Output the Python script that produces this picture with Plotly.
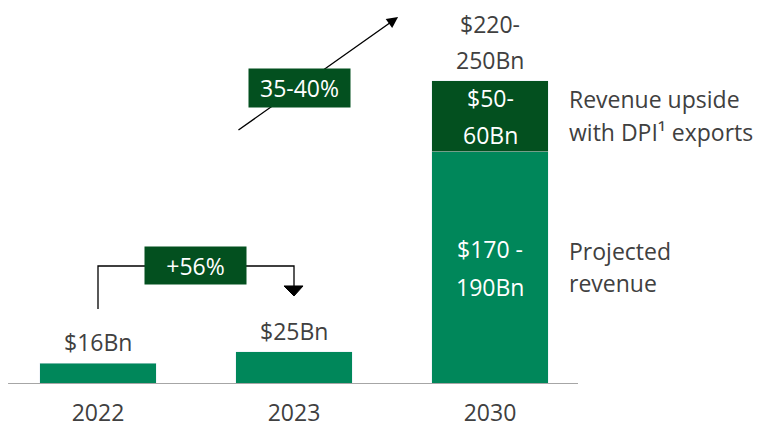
import plotly.graph_objects as go

# data
years = ["2022", "2023", "2030"]
projected = [16, 25, 180]
upside_year = ["2030"]
upside = [55]
top_labels = [["$16Bn"], ["$25Bn"], ["$220-", "250Bn"]]
projected_inside = ["$170 -", "190Bn"]
upside_inside = ["$50-", "60Bn"]
growth_labels = ["+56%", "35-40%"]
side_labels = [["Revenue upside", "with DPI¹ exports"], ["Projected", "revenue"]]

GREEN = "#00875A"
DARK = "#03501F"
GREY = "#404040"
FONT = "Open Sans"
FS = 23

xpos = list(range(len(years)))
upos = [years.index(y) for y in upside_year]

fig = go.Figure()
fig.add_trace(go.Bar(x=xpos, y=projected, marker_color=GREEN, width=0.592,
                     hoverinfo="skip"))
fig.add_trace(go.Bar(x=upos, y=upside, marker_color=DARK, width=0.592,
                     hoverinfo="skip"))

ann = []


def txt(x, y, s, yshift=0, color=GREY, xanchor="center", xref="x"):
    ann.append(dict(x=x, y=y, xref=xref, yref="y", text=s, showarrow=False,
                    xanchor=xanchor, yanchor="middle", yshift=yshift,
                    font=dict(family=FONT, size=FS, color=color)))


# diagonal arrow (drawn first so the box sits on top)
ann.append(dict(x=1.531, y=284.5, ax=0.709, ay=196.1, xref="x", yref="y",
                axref="x", ayref="y", text="", showarrow=True,
                arrowhead=2, arrowsize=1.6, arrowwidth=1.4, arrowcolor="black"))

# labels above bars
totals = [p for p in projected]
for i, u in zip(upos, upside):
    totals[i] += u
for i, lines in enumerate(top_labels):
    for k, s in enumerate(reversed(lines)):
        txt(i, totals[i], s, yshift=21 + 36 * k)

# labels inside the 2030 stack
i = upos[0]
mid = projected[i] / 2
txt(i, mid, projected_inside[0], yshift=19, color="white")
txt(i, mid, projected_inside[1], yshift=-19, color="white")
up_mid = projected[i] + upside[0] / 2
txt(i, up_mid, upside_inside[0], yshift=18, color="white")
txt(i, up_mid, upside_inside[1], yshift=-19, color="white")

# side labels
txt(2.393, up_mid, side_labels[0][0], yshift=17, xanchor="left")
txt(2.393, up_mid, side_labels[0][1], yshift=-16, xanchor="left")
txt(2.393, projected[i] / 2, side_labels[1][0], yshift=17, xanchor="left")
txt(2.393, projected[i] / 2, side_labels[1][1], yshift=-15, xanchor="left")

# growth boxes
ann.append(dict(x=0.497, y=91.9, xref="x", yref="y", text=growth_labels[0],
                showarrow=False, bgcolor=DARK, width=99, height=35,
                font=dict(family=FONT, size=FS, color="white")))
ann.append(dict(x=1.028, y=229.5, xref="x", yref="y", text=growth_labels[1],
                showarrow=False, bgcolor=DARK, width=99, height=36,
                font=dict(family=FONT, size=FS, color="white")))

shapes = [
    # baseline
    dict(type="line", x0=-0.459, x1=2.449, y0=0, y1=0, xref="x", yref="y",
         line=dict(color="#A6A6A6", width=2)),
    # elbow connector 2022 -> 2023
    dict(type="path", path="M 0,58.1 L 0,91.5 L 1,91.5 L 1,76", xref="x", yref="y",
         line=dict(color="black", width=1.3), layer="below"),
    dict(type="path", path="M 0.949,76 L 1.046,76 L 1,68.2 Z", xref="x", yref="y",
         fillcolor="black", line=dict(color="black", width=1)),
]

fig.update_layout(
    width=772, height=424,
    margin=dict(l=0, r=184, t=0, b=40),
    barmode="stack", showlegend=False,
    plot_bgcolor="white", paper_bgcolor="white",
    annotations=ann, shapes=shapes,
    font=dict(family=FONT, color=GREY),
)
fig.update_xaxes(range=[-0.5, 2.5], tickvals=xpos, ticktext=years,
                 showgrid=False, zeroline=False, showline=False, ticks="",
                 tickfont=dict(family=FONT, size=FS, color=GREY),
                 ticklabelstandoff=13, automargin=False)
fig.update_yaxes(range=[0, 297.7], visible=False, automargin=False)

fig.write_html("out.html", config={"displayModeBar": False},
               post_script="document.body.style.margin='0';")
